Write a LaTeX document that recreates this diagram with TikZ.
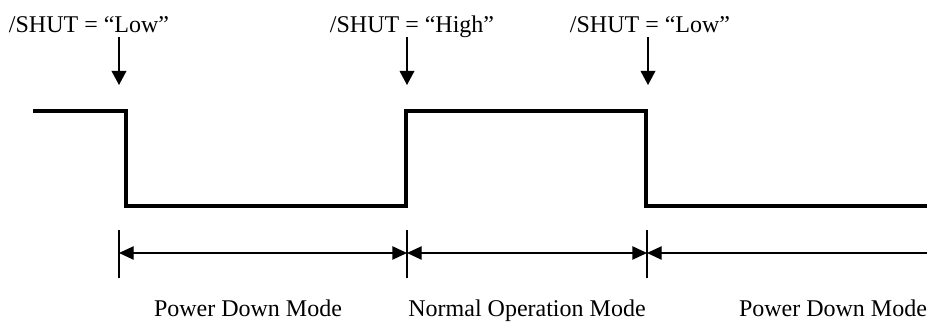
\documentclass[tikz,border=0pt]{standalone}
\usepackage{fontspec}
\setmainfont{Liberation Serif}
\usetikzlibrary{arrows.meta}
\tikzset{every picture/.style={line width=0.75pt}}

\begin{document}
\begin{tikzpicture}[x=0.75pt,y=0.75pt,yscale=-1,xscale=1,
  wave/.style={line width=3pt},
  pointer/.style={line width=1pt,-{Triangle[length=10.5pt,width=11pt]}},
  span/.style={line width=1pt},
  lbl/.style={anchor=base,inner sep=0.75pt,font=\fontsize{18}{21}\selectfont}]
\useasboundingbox (0,0) rectangle (927,323);

%Waveform
\coordinate (w0) at (33,111);
\coordinate (w1) at (126,111);
\coordinate (w2) at (126,206);
\coordinate (w3) at (406,206);
\coordinate (w4) at (406,111);
\coordinate (w5) at (646,111);
\coordinate (w6) at (646,206);
\coordinate (w7) at (927,206);
\draw [wave] (w0) -- (w1) -- (w2) -- (w3) -- (w4) -- (w5) -- (w6) -- (w7) ;

% Text Node
\node (shutA) [lbl] at (89,33) {/SHUT = “Low”};
% Text Node
\node (shutB) [lbl] at (412,33) {/SHUT = “High”};
% Text Node
\node (shutC) [lbl] at (650,33) {/SHUT = “Low”};

%Pointer arrows
\coordinate (pA) at (119,85);
\coordinate (pB) at (407,85);
\coordinate (pC) at (648,85);
\draw [pointer] (pA |- 0,37) coordinate (qA) -- (pA) ;
\draw [pointer] (pB |- 0,37) coordinate (qB) -- (pB) ;
\draw [pointer] (pC |- 0,37) coordinate (qC) -- (pC) ;

%Ticks
\coordinate (tA) at (119,253);
\coordinate (tB) at (407,253);
\coordinate (tC) at (647,253);
\coordinate (tD) at (927,253);
\draw [span] (119,230) -- (119,278) ;
\draw [span] (407,230) -- (407,278) ;
\draw [span] (647,230) -- (647,278) ;

%Spans
\draw [span,{Triangle[length=11pt,width=10pt]}-{Triangle[length=11pt,width=10pt]}] (tA) -- (tB) ;
\draw [span,{Triangle[length=11pt,width=10pt]}-{Triangle[length=11pt,width=10pt]}] (tB) -- (tC) ;
\draw [span,{Triangle[length=11pt,width=10pt]}-] (tC) -- (tD) ;

% Text Node
\node (modeA) [lbl] at (248,317) {Power Down Mode};
% Text Node
\node (modeB) [lbl] at (527,317) {Normal Operation Mode};
% Text Node
\node (modeC) [lbl] at (833,317) {Power Down Mode};

\end{tikzpicture}
\end{document}
